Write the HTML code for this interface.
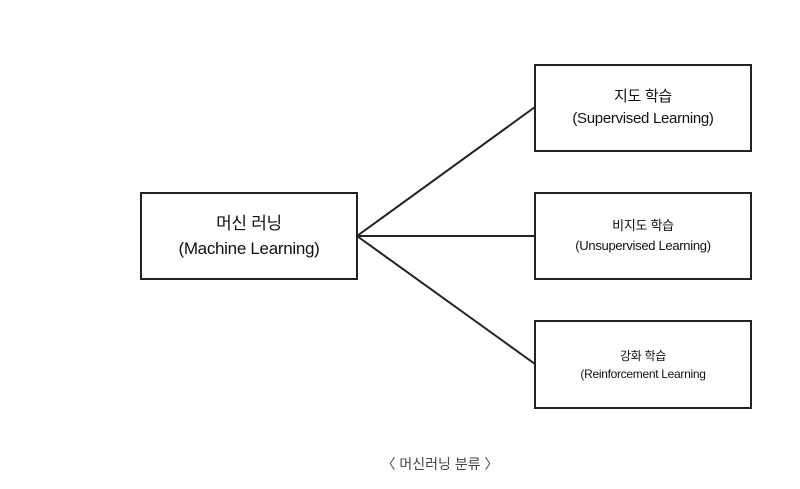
<!DOCTYPE html>
<html><head><meta charset="utf-8"><style>
html,body{margin:0;padding:0;background:#fff;}
body{width:800px;height:489px;position:relative;overflow:hidden;font-family:"Liberation Sans","Noto Sans CJK KR",sans-serif;color:#111;}
.b{position:absolute;border:2px solid #222;box-sizing:border-box;background:#fff;display:flex;flex-direction:column;align-items:center;justify-content:center;text-align:center;letter-spacing:-0.3px;}
</style></head><body>
<svg width="800" height="489" style="position:absolute;left:0;top:0">
<g stroke="#222" stroke-width="2" fill="none">
<line x1="357" y1="236" x2="535" y2="107"/>
<line x1="357" y1="236" x2="535" y2="236"/>
<line x1="357" y1="236" x2="535" y2="364"/>
</g></svg>
<div class="b" style="left:140px;top:192px;width:218px;height:88px;font-size:17px;line-height:25px">머신 러닝<br>(Machine Learning)</div>
<div class="b" style="left:534px;top:64px;width:218px;height:88px;font-size:15px;line-height:22px">지도 학습<br>(Supervised Learning)</div>
<div class="b" style="left:534px;top:192px;width:218px;height:88px;font-size:13px;line-height:20px">비지도 학습<br>(Unsupervised Learning)</div>
<div class="b" style="left:534px;top:320px;width:218px;height:89px;font-size:12px;line-height:18px">강화 학습<br>(Reinforcement Learning</div>
<div style="position:absolute;left:340px;top:454px;width:200px;text-align:center;font-size:14px;color:#444">〈 머신러닝 분류 〉</div>
</body></html>
